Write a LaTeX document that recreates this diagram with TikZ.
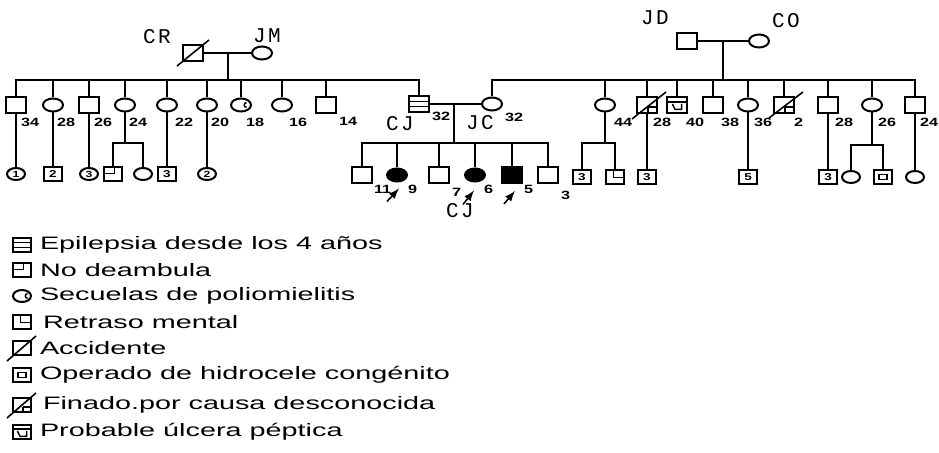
\documentclass[tikz,border=0pt]{standalone}
\usepackage{fontspec}
\setmainfont{Liberation Sans}
\newfontfamily\tagfont[LetterSpace=12]{Liberation Mono}
\newfontfamily\legfont[FakeStretch=1.6]{Liberation Sans}
\newfontfamily\agefont[FakeStretch=1.35]{Liberation Sans}
\usetikzlibrary{shapes,arrows,positioning}

\tikzset{
  male/.style={draw, rectangle, line width=1pt, minimum width=10pt, minimum height=8pt, inner sep=0pt},
  female/.style={draw, ellipse, line width=1pt, minimum width=10pt, minimum height=6.5pt, inner sep=0pt},
  smale/.style={male, minimum width=9pt, minimum height=7pt, font=\agefont\bfseries\fontsize{5}{5}\selectfont},
  sfemale/.style={female, minimum width=9pt, minimum height=6pt, font=\agefont\bfseries\fontsize{4.5}{4.5}\selectfont},
  age/.style={inner sep=0pt, anchor=north west, font=\agefont\bfseries\fontsize{6}{6}\selectfont},
  tag/.style={inner sep=0pt, font=\tagfont\fontsize{10.5}{10.5}\selectfont},
  legtext/.style={inner sep=0pt, font=\legfont\fontsize{9}{11}\selectfont},
  slash/.style={line width=0.8pt},
  proband/.style={-latex, line width=0.8pt},
  markline/.style={line width=0.7pt},
  epil/.style={path picture={
    \draw[markline] ([yshift=1.3pt]path picture bounding box.west) -- ([yshift=1.3pt]path picture bounding box.east);
    \draw[markline] ([yshift=-1.3pt]path picture bounding box.west) -- ([yshift=-1.3pt]path picture bounding box.east);}},
  nodeamb/.style={path picture={
    \draw[markline] ([yshift=0.3pt]path picture bounding box.west) -- ([shift={(0.8pt,0.3pt)}]path picture bounding box.center) -- ([xshift=0.8pt]path picture bounding box.north);}},
  polio/.style={path picture={
    \draw[markline] ([shift={(2.8pt,1.2pt)}]path picture bounding box.center) arc[start angle=90, end angle=270, radius=1.2pt];}},
  retraso/.style={path picture={
    \draw[markline] ([xshift=-0.8pt]path picture bounding box.north) -- ([shift={(-0.8pt,-0.3pt)}]path picture bounding box.center) -- ([yshift=-0.3pt]path picture bounding box.east);}},
  hidro/.style={path picture={
    \draw[markline] ([shift={(-2pt,-1.3pt)}]path picture bounding box.center) rectangle ([shift={(2pt,1.3pt)}]path picture bounding box.center);}},
  finado/.style={path picture={
    \draw[markline] ([shift={(0.5pt,-1pt)}]path picture bounding box.center) -- ([yshift=-1pt]path picture bounding box.east);
    \draw[markline] ([shift={(0.5pt,-1pt)}]path picture bounding box.center) -- ([xshift=0.5pt]path picture bounding box.south);}},
  ulcera/.style={path picture={
    \draw[markline] ([yshift=1.5pt]path picture bounding box.west) -- ([yshift=1.5pt]path picture bounding box.east);
    \draw[markline] ([shift={(-2.3pt,0.5pt)}]path picture bounding box.center) -- ([shift={(-1pt,-2.2pt)}]path picture bounding box.center) -- ([shift={(2.3pt,-2.2pt)}]path picture bounding box.center) -- ([shift={(2.3pt,0.5pt)}]path picture bounding box.center);}}
}

\begin{document}
\begin{tikzpicture}[x=0.5pt, y=-0.5pt, line width=1pt]
\useasboundingbox (0,0) rectangle (939,453);

% Left grandparents CR and JM
\node[male] (cr) at (193,53) {};
\node[female] (jm) at (262,53) {};
\node[tag] (tcr) at (157,37) {CR};
\node[tag] (tjm) at (267,36) {JM};
\coordinate (m1) at (228,53);
\coordinate (s1) at (228,80);
\draw[slash] ([shift={(-2.5pt,-2pt)}]cr.south west) -- ([shift={(2.5pt,2pt)}]cr.north east);
\draw (cr) -- (jm);
\draw (m1) -- (s1);

% Right grandparents JD and CO
\node[male] (jd) at (687,41) {};
\node[female] (co) at (759,41) {};
\node[tag] (tjd) at (655,18) {JD};
\node[tag] (tco) at (786,21) {CO};
\coordinate (m2) at (723,41);
\coordinate (s2) at (723,80);
\draw (jd) -- (co);
\draw (m2) -- (s2);

% Children of CR and JM
\node[male] (l1) at (16,105) {};
\node[female] (l2) at (53,105) {};
\node[male] (l3) at (89,105) {};
\node[female] (l4) at (125,105) {};
\node[female] (l5) at (167,105) {};
\node[female] (l6) at (207,105) {};
\node[female, polio] (l7) at (241,105) {};
\node[female] (l8) at (282,105) {};
\node[male] (l9) at (326,105) {};
\node[male, epil] (cj) at (419,104) {};
\foreach \n in {l1,l2,l3,l4,l5,l6,l7,l8,l9,cj}
  \draw (\n.north) |- (s1);

\node[age, xshift=2pt, yshift=-6pt] (al1) at (l1.center) {34};
\node[age, xshift=1.5pt, yshift=-6pt] (al2) at (l2.center) {28};
\node[age, xshift=2pt, yshift=-6pt] (al3) at (l3.center) {26};
\node[age, xshift=1.5pt, yshift=-6pt] (al4) at (l4.center) {24};
\node[age, xshift=3.5pt, yshift=-6pt] (al5) at (l5.center) {22};
\node[age, xshift=1.5pt, yshift=-6pt] (al6) at (l6.center) {20};
\node[age, xshift=2pt, yshift=-6pt] (al7) at (l7.center) {18};
\node[age, xshift=3pt, yshift=-6pt] (al8) at (l8.center) {16};
\node[age, xshift=6pt, yshift=-5.5pt] (al9) at (l9.center) {14};
\node[age, xshift=6pt, yshift=-3.5pt] (acj) at (cj.center) {32};
\node[tag] (tcj) at (400,124) {CJ};

% Children of JD and CO
\node[female] (jc) at (492,104) {};
\node[female] (r1) at (605,105) {};
\node[male, finado] (r2) at (647,105) {};
\node[male, ulcera] (r3) at (677,105) {};
\node[male] (r4) at (713,105) {};
\node[female] (r5) at (748,105) {};
\node[male, finado] (r6) at (784,105) {};
\node[male] (r7) at (828,105) {};
\node[female] (r8) at (872,105) {};
\node[male] (r9) at (915,105) {};
\foreach \n in {jc,r1,r2,r3,r4,r5,r6,r7,r8,r9}
  \draw (\n.north) |- (s2);
\draw[slash] ([shift={(-2pt,-2.5pt)}]r2.south west) -- ([shift={(4pt,2pt)}]r2.north east);
\draw[slash] ([shift={(-2pt,-2pt)}]r6.south west) -- ([shift={(4pt,2pt)}]r6.north east);

\node[age, xshift=4pt, yshift=-6pt] (ar1) at (r1.center) {44};
\node[age, xshift=2.5pt, yshift=-6pt] (ar2) at (r2.center) {28};
\node[age, xshift=4pt, yshift=-6pt] (ar3) at (r3.center) {40};
\node[age, xshift=3.5pt, yshift=-6pt] (ar4) at (r4.center) {38};
\node[age, xshift=2.5pt, yshift=-6pt] (ar5) at (r5.center) {36};
\node[age, xshift=4.5pt, yshift=-6pt] (ar6) at (r6.center) {2};
\node[age, xshift=3pt, yshift=-6pt] (ar7) at (r7.center) {28};
\node[age, xshift=2.5pt, yshift=-6pt] (ar8) at (r8.center) {26};
\node[age, xshift=2pt, yshift=-6pt] (ar9) at (r9.center) {24};
\node[tag] (tjc) at (480,123) {JC};
\node[age, xshift=6pt, yshift=-4pt] (ajc) at (jc.center) {32};

% CJ and JC with their children
\coordinate (m3) at (454,104);
\coordinate (s3) at (454,143);
\draw (cj) -- (jc);
\draw (m3) -- (s3);
\node[male] (c1) at (362,175) {};
\node[female, fill=black] (c2) at (397,175) {};
\node[male] (c3) at (439,175) {};
\node[female, fill=black] (c4) at (475,175) {};
\node[male, fill=black] (c5) at (512,175) {};
\node[male] (c6) at (548,175) {};
\foreach \n in {c1,c2,c3,c4,c5,c6}
  \draw (\n.north) |- (s3);
\node[age, xshift=5.5pt, yshift=-4.5pt] (ac1) at (c1.center) {11};
\node[age, xshift=5pt, yshift=-4.5pt] (ac2) at (c2.center) {9};
\node[age, xshift=6pt, yshift=-6pt] (ac3) at (c3.center) {7};
\node[age, xshift=4pt, yshift=-4.5pt] (ac4) at (c4.center) {6};
\node[age, xshift=5.5pt, yshift=-4.5pt] (ac5) at (c5.center) {5};
\node[age, xshift=6pt, yshift=-7.5pt] (ac6) at (c6.center) {3};

% Probands
\coordinate (p2) at ([shift={(-5pt,-9.5pt)}]c2.south);
\coordinate (p4) at ([shift={(-6pt,-11pt)}]c4.south);
\coordinate (p5) at ([shift={(-4pt,-10pt)}]c5.south);
\draw[proband] (p2) -- ++(6pt,6.5pt);
\draw[proband] (p4) -- ++(5.5pt,7pt);
\draw[proband] (p5) -- ++(5.5pt,6.5pt);
\node[tag] (tcj2) at (460,211) {CJ};

% Grandchildren, left side
\node[sfemale] (g1) at (16,174) {1};
\node[smale] (g2) at (53,174) {2};
\node[sfemale] (g3) at (89,174) {3};
\node[smale, nodeamb] (g4a) at (113,174) {};
\node[sfemale] (g4b) at (143,174) {};
\node[smale] (g5) at (167,174) {3};
\node[sfemale] (g6) at (207,174) {2};
\coordinate (s4) at (125,143);
\draw (l1) -- (g1);
\draw (l2) -- (g2);
\draw (l3) -- (g3);
\draw (l4) -- (s4);
\draw (g4a.north) |- (s4);
\draw (g4b.north) |- (s4);
\draw (l5) -- (g5);
\draw (l6) -- (g6);

% Grandchildren, right side
\node[smale] (ga) at (582,177) {3};
\node[smale, retraso] (gb) at (615,177) {};
\node[smale] (gc) at (647,177) {3};
\node[smale] (gd) at (748,177) {5};
\node[smale] (ge) at (828,177) {3};
\node[sfemale] (gf) at (851,177) {};
\node[smale, hidro] (gg) at (883,177) {};
\node[sfemale] (gh) at (915,177) {};
\coordinate (s5) at (605,143);
\coordinate (s6) at (872,145);
\draw (r1) -- (s5);
\draw (ga.north) |- (s5);
\draw (gb.north) |- (s5);
\draw (r2) -- (gc);
\draw (r5) -- (gd);
\draw (r7) -- (ge);
\draw (r8) -- (s6);
\draw (gf.north) |- (s6);
\draw (gg.north) |- (s6);
\draw (r9) -- (gh);

% Legend
\node[smale, epil] (k1) at (22,245) {};
\node[smale, nodeamb] (k2) at (22,270) {};
\node[sfemale, polio] (k3) at (22,296) {};
\node[smale, retraso] (k4) at (22,322) {};
\node[smale] (k5) at (22,348) {};
\node[smale, hidro] (k6) at (22,375) {};
\node[smale, finado] (k7) at (22,405) {};
\node[smale, ulcera] (k8) at (22,432) {};
\draw[slash] ([shift={(-2.5pt,-2.5pt)}]k5.south west) -- ([shift={(2pt,2pt)}]k5.north east);
\draw[slash] ([shift={(-2.5pt,-2.5pt)}]k7.south west) -- ([shift={(2pt,2pt)}]k7.north east);
\node[legtext, right=3.5pt of k1] (t1) {Epilepsia desde los 4 años};
\node[legtext, right=3.5pt of k2] (t2) {No deambula};
\node[legtext, right=3.5pt of k3] (t3) {Secuelas de poliomielitis};
\node[legtext, right=5pt of k4] (t4) {Retraso mental};
\node[legtext, right=3.5pt of k5] (t5) {Accidente};
\node[legtext, right=3.5pt of k6] (t6) {Operado de hidrocele congénito};
\node[legtext, right=5pt of k7] (t7) {Finado.por causa desconocida};
\node[legtext, right=3.5pt of k8] (t8) {Probable úlcera péptica};
\end{tikzpicture}
\end{document}
